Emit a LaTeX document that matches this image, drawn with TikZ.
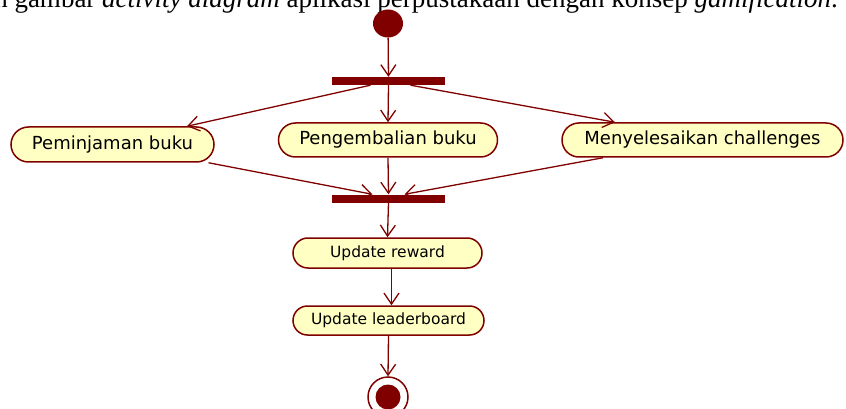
\documentclass[tikz,border=0pt]{standalone}
\usepackage{fontspec}
\setmainfont{Liberation Serif}
\newfontfamily\actfont{DejaVu Sans}
\usetikzlibrary{arrows.meta,shapes.misc,shapes.geometric,calc}
\definecolor{umlred}{HTML}{800000}
\definecolor{umlfill}{HTML}{FFFFC4}
\tikzset{
  flow/.style={draw=umlred, line width=1.3pt, -{Straight Barb[length=11pt,width=15pt,line width=1.3pt]}},
  action/.style={rounded rectangle, draw=umlred, fill=umlfill, line width=1.5pt,
    inner sep=0pt, text=black, font=\actfont\fontsize{18}{20}\selectfont},
  smallaction/.style={action, font=\actfont\fontsize{15.5}{18}\selectfont},
  forkbar/.style={rectangle, fill=umlred, inner sep=0pt, minimum width=113pt, minimum height=8pt},
  startnode/.style={ellipse, fill=umlred, inner sep=0pt, minimum width=30pt, minimum height=28pt},
}
\begin{document}
\begin{tikzpicture}[x=1pt,y=-1pt]
\useasboundingbox (0,0) rectangle (846,409);
\clip (0,0) rectangle (846,409);

% caption line above the diagram, its top cut by the frame
\node[anchor=base east, inner sep=0pt, font=\fontsize{27}{30}\selectfont] (caption) at (838,8)
  {n gambar \textit{activity diagram} aplikasi perpustakaan dengan konsep \textit{gamification}.};

% nodes
\node[startnode] (start) at (388,23.5) {};
\node[forkbar] (fork) at (388.5,81) {};
\node[action, minimum width=203pt, minimum height=35pt] (pinjam) at (112.5,144.5) {Peminjaman buku};
\node[action, minimum width=219pt, minimum height=34pt] (kembali) at (388,140) {Pengembalian buku};
\node[action, minimum width=281pt, minimum height=34pt] (challenge) at (702.5,140) {Menyelesaikan challenges};
\node[forkbar] (join) at (388.5,198.5) {};
\node[smallaction, minimum width=189pt, minimum height=30pt] (reward) at (387.5,253) {Update reward};
\node[smallaction, minimum width=191pt, minimum height=29pt] (leader) at (388.5,320.5) {Update leaderboard};
\node[circle, draw=umlred, fill=white, line width=1.5pt, inner sep=0pt, minimum size=40pt] (final) at (388,397) {};
\node[circle, fill=umlred, inner sep=0pt, minimum size=25pt] (finaldot) at (final.center) {};

% connectors
\draw[flow] (start) -- (fork);
\draw[flow] ([xshift=-18pt]fork.south) -- ([xshift=74.5pt]pinjam.north);
\draw[flow] (fork.south) -- (kembali.north);
\draw[flow] ([xshift=22pt]fork.south) -- ([xshift=-87.5pt]challenge.north);
\draw[flow] ([xshift=96pt]pinjam.south) -- ([xshift=-16pt]join.north);
\draw[flow] (kembali.south) -- (join.north);
\draw[flow] ([xshift=-99.5pt]challenge.south) -- ([xshift=16pt]join.north);
\draw[flow] (join.south) -- (reward.north);
\draw[flow] ([xshift=4pt]reward.south) -- ([xshift=3pt]leader.north);
\draw[flow] (leader.south) -- (final.north);
\end{tikzpicture}
\end{document}
